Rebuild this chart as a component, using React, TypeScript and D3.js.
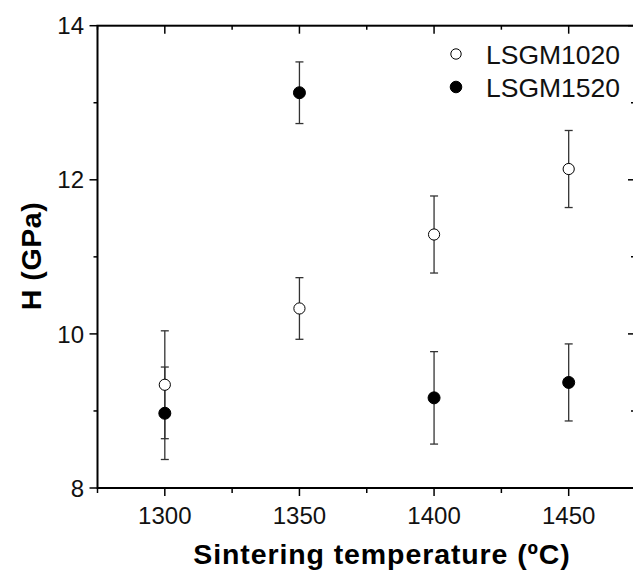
import React from "react";
import * as d3 from "d3";

// sintering temperatures (ºC)
const temps = [1300, 1350, 1400, 1450];
// hardness values (GPa) and error bars
const lsgm1020 = [9.34, 10.33, 11.29, 12.14];
const lsgm1020Err = [0.7, 0.4, 0.5, 0.5];
const lsgm1520 = [8.97, 13.13, 9.17, 9.37];
const lsgm1520Err = [0.6, 0.4, 0.6, 0.5];

const xMajor = [1300, 1350, 1400, 1450];
const xMinor = [1275, 1325, 1375, 1425, 1475];
const yMajor = [8, 10, 12, 14];
const yMinor = [9, 11, 13];

const W = 633;
const H = 579;
const font = "'Liberation Sans', Arial, sans-serif";

const App = () => {
  const left = 97.5;
  const right = 636;
  const top = 25.7;
  const bottom = 488;

  const x = d3.scaleLinear().domain([1275, 1475]).range([left, right]);
  const y = d3.scaleLinear().domain([8, 14]).range([bottom, top]);

  const series = [
    { name: "LSGM1020", vals: lsgm1020, err: lsgm1020Err, fill: "#fff", r: 5.6 },
    { name: "LSGM1520", vals: lsgm1520, err: lsgm1520Err, fill: "#000", r: 6 },
  ];

  return (
    <svg width={W} height={H} style={{ display: "block", position: "absolute", left: 0, top: 0 }}>
      <rect width={W} height={H} fill="#fff" />

      {/* ticks */}
      <g stroke="#000" strokeWidth={1.5}>
        {xMajor.map((t) => (
          <g key={"xM" + t}>
            <line x1={x(t)} x2={x(t)} y1={bottom} y2={bottom + 8} />
            <line x1={x(t)} x2={x(t)} y1={top} y2={top + 8} />
          </g>
        ))}
        {xMinor.map((t) => (
          <g key={"xm" + t}>
            <line x1={x(t)} x2={x(t)} y1={bottom} y2={bottom + 5} />
            <line x1={x(t)} x2={x(t)} y1={top} y2={top + 4} />
          </g>
        ))}
        {yMajor.map((t) => (
          <g key={"yM" + t}>
            <line x1={left - 8} x2={left} y1={y(t)} y2={y(t)} />
            <line x1={right - 8} x2={right} y1={y(t)} y2={y(t)} />
          </g>
        ))}
        {yMinor.map((t) => (
          <g key={"ym" + t}>
            <line x1={left - 4} x2={left} y1={y(t)} y2={y(t)} />
            <line x1={right - 5} x2={right} y1={y(t)} y2={y(t)} />
          </g>
        ))}
      </g>

      {/* frame */}
      <rect x={left} y={top} width={right - left} height={bottom - top} fill="none" stroke="#000" strokeWidth={2} />

      {/* tick labels */}
      <g fontFamily={font} fontSize={24} fill="#111">
        {xMajor.map((t) => (
          <text key={"xl" + t} x={x(t)} y={523.5} textAnchor="middle">{t}</text>
        ))}
        {yMajor.map((t) => (
          <text key={"yl" + t} x={84} y={y(t) + 8.6} textAnchor="end">{t}</text>
        ))}
      </g>

      {/* axis titles */}
      <text x={382} y={564} textAnchor="middle" fontFamily={font} fontSize={28.5} fontWeight="bold" letterSpacing={0.9}>
        Sintering temperature (ºC)
      </text>
      <text
        transform={`translate(41,256) rotate(-90)`}
        textAnchor="middle"
        fontFamily={font}
        fontSize={28.5}
        fontWeight="bold"
        letterSpacing={0.6}
      >
        H (GPa)
      </text>

      {/* error bars */}
      <g stroke="#333" strokeWidth={1.3}>
        {series.map((s) =>
          temps.map((t, i) => {
            const cx = x(t);
            const hi = y(s.vals[i] + s.err[i]);
            const lo = y(s.vals[i] - s.err[i]);
            return (
              <g key={s.name + t}>
                <line x1={cx} x2={cx} y1={hi} y2={lo} />
                <line x1={cx - 4} x2={cx + 4} y1={hi} y2={hi} />
                <line x1={cx - 4} x2={cx + 4} y1={lo} y2={lo} />
              </g>
            );
          })
        )}
      </g>

      {/* points */}
      {series.map((s) =>
        temps.map((t, i) => (
          <circle
            key={"p" + s.name + t}
            cx={x(t)}
            cy={y(s.vals[i])}
            r={s.r}
            fill={s.fill}
            stroke="#000"
            strokeWidth={1}
          />
        ))
      )}

      {/* legend */}
      {series.map((s, i) => (
        <g key={"lg" + s.name} transform={`translate(456,${54 + i * 33})`}>
          <circle r={i === 0 ? 5.2 : 5.8} fill={s.fill} stroke="#000" strokeWidth={1} />
          <text x={30} y={9.5} fontFamily={font} fontSize={26.5} fill="#111">
            {s.name}
          </text>
        </g>
      ))}
    </svg>
  );
};

export default App;
